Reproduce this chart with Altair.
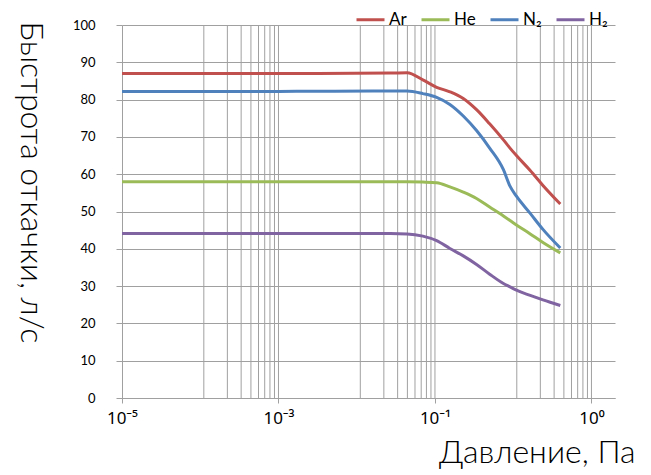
import altair as alt
import pandas as pd

# ---- data ----
PRESSURE = [1e-5, 1e-3, 0.027, 0.044, 0.07, 0.105, 0.155, 0.23, 0.34, 0.5, 0.75, 0.91, 1.1, 1.65, 2.4, 4.0]
AR = [87.0, 87.0, 87.1, 87.2, 85.3, 83.3, 82.1, 80.3, 77.3, 73.5, 69.2, 67.0, 65.0, 61.0, 57.0, 52.0]
HE = [58.0, 58.0, 58.0, 58.0, 57.9, 57.7, 56.6, 55.2, 53.5, 51.2, 48.8, 47.6, 46.4, 44.0, 41.7, 38.9]
N2 = [82.2, 82.2, 82.3, 82.3, 81.6, 80.6, 78.7, 75.6, 71.7, 67.0, 61.2, 56.8, 54.1, 49.5, 45.2, 40.2]
H2 = [44.1, 44.1, 44.1, 44.0, 43.4, 42.2, 40.1, 38.1, 35.8, 33.2, 30.7, 29.8, 28.9, 27.5, 26.3, 24.8]

GASES = ["Ar", "He", "N₂", "H₂"]
COLORS = ["#C0504D", "#9BBB59", "#4F81BD", "#8064A2"]

XTICK_VALUES = [1e-5, 1e-3, 1e-1, 10]
XTICK_LABELS = ["10⁻⁵", "10⁻³", "10⁻¹", "10⁰"]
YTICK_VALUES = [0, 10, 20, 30, 40, 50, 60, 70, 80, 90, 100]

# vertical gridlines: major positions and minor multipliers per base-100 decade
GRID_DECADES = [1e-5, 1e-3, 1e-1]
GRID_MULT = [11.11, 22.22, 33.33, 44.44, 55.56, 66.67, 77.78, 88.89]
GRID_MAJOR = [1e-3, 1e-1, 10]

rows = []
for gas, vals in zip(GASES, [AR, HE, N2, H2]):
    for p, v in zip(PRESSURE, vals):
        rows.append({"p": p, "v": v, "gas": gas})
df = pd.DataFrame(rows)

grid_vals = [d * m for d in GRID_DECADES for m in GRID_MULT] + GRID_MAJOR
grid_df = pd.DataFrame({"p": grid_vals})

FONT = "Lato"
GRID_COLOR = "#a0a0a0"

label_expr = " : ".join(
    [f"datum.value < {v * 3} ? '{l}'" for v, l in zip(XTICK_VALUES[:-1], XTICK_LABELS[:-1])]
) + f" : '{XTICK_LABELS[-1]}'"

xscale = alt.Scale(type="log", base=100, domain=[1e-5, 20], nice=False)

x_axis = alt.Axis(
    values=XTICK_VALUES,
    labelExpr=label_expr,
    grid=False,
    title="Давление, Па",
    titleX=513,
    titleY=64,
    titleAlign="right",
    titleBaseline="alphabetic",
    titleFontSize=32,
    titleFontWeight=300,
    titleFont=FONT,
    titleColor="#000000",
    labelFont="Noto Sans",
    labelFontSize=17,
    labelColor="#000000",
    labelPadding=7,
    tickSize=5,
    tickColor=GRID_COLOR,
    domainColor=GRID_COLOR,
    labelFlush=False,
)

grid = alt.Chart(grid_df).mark_rule(color=GRID_COLOR, strokeWidth=1).encode(
    x=alt.X("p:Q", scale=xscale, axis=x_axis)
)

lines = alt.Chart(df).mark_line(interpolate="monotone", strokeWidth=3).encode(
    x=alt.X("p:Q", scale=xscale, axis=x_axis),
    y=alt.Y(
        "v:Q",
        scale=alt.Scale(domain=[0, 100], nice=False),
        axis=alt.Axis(
            values=YTICK_VALUES,
            grid=True,
            gridColor=GRID_COLOR,
            title="Быстрота откачки, л/с",
            titleAngle=90,
            titleX=-92,
            titleY=157,
            titleAlign="center",
            titleBaseline="middle",
            titleFontSize=32,
            titleFontWeight=300,
            titleFont=FONT,
            titleColor="#000000",
            labelFont=FONT,
            labelFontSize=13,
            labelColor="#000000",
            labelPadding=21,
            tickSize=6,
            tickColor=GRID_COLOR,
            domainColor=GRID_COLOR,
        ),
    ),
    color=alt.Color(
        "gas:N",
        scale=alt.Scale(domain=GASES, range=COLORS),
        sort=GASES,
        legend=alt.Legend(
            orient="none",
            legendX=233,
            legendY=-21,
            direction="horizontal",
            title=None,
            symbolType="stroke",
            symbolSize=784,
            symbolStrokeWidth=3,
            labelFont=FONT,
            labelFontSize=17,
            labelColor="#000000",
            labelOffset=3,
            columnPadding=8,
        ),
    ),
)

chart = (
    alt.layer(grid, lines)
    .properties(
        width=493,
        height=373,
        autosize="none",
        padding={"left": 114, "top": 17, "right": 28, "bottom": 76},
    )
    .configure_view(stroke=None)
)

chart.save("out.html", embed_options={"renderer": "svg", "actions": False})
